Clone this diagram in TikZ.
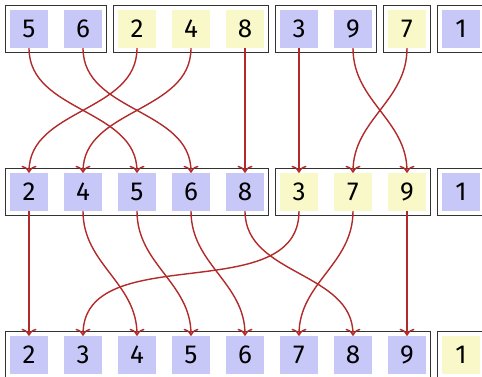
\documentclass[tikz,border=0pt]{standalone}
\usepackage{fontspec}
\setmainfont{Fira Sans}
\usetikzlibrary{fit,arrows.meta}
\definecolor{cellblue}{RGB}{200,200,248}
\definecolor{cellyellow}{RGB}{248,248,200}
\definecolor{movered}{RGB}{178,42,42}
\begin{document}
\begin{tikzpicture}[x=1pt,y=1pt,
  cell/.style={minimum width=38pt, minimum height=38pt, inner sep=0pt,
    font=\fontsize{26}{30}\selectfont},
  grp/.style={draw=black!80, line width=1pt, inner sep=4pt},
  move/.style={movered, line width=1.4pt, -{To[length=7pt,width=15pt]}}]
\useasboundingbox (0,0) rectangle (482,376);
% rows of cells, named by their value
\foreach \v/\c [count=\i] in {5/cellblue,6/cellblue,2/cellyellow,4/cellyellow,8/cellyellow,3/cellblue,9/cellblue,7/cellyellow,1/cellblue}
  \node[cell, fill=\c] (a\v) at ({29+54*(\i-1)},347) {\v};
\foreach \v/\c [count=\i] in {2/cellblue,4/cellblue,5/cellblue,6/cellblue,8/cellblue,3/cellyellow,7/cellyellow,9/cellyellow,1/cellblue}
  \node[cell, fill=\c] (b\v) at ({29+54*(\i-1)},184) {\v};
\foreach \v/\c [count=\i] in {2/cellblue,3/cellblue,4/cellblue,5/cellblue,6/cellblue,7/cellblue,8/cellblue,9/cellblue,1/cellyellow}
  \node[cell, fill=\c] (c\v) at ({29+54*(\i-1)},21) {\v};
% runs
\node[grp, fit=(a5)(a6)] (ra1) {};
\node[grp, fit=(a2)(a8)] (ra2) {};
\node[grp, fit=(a3)(a9)] (ra3) {};
\node[grp, fit=(a7)] (ra4) {};
\node[grp, fit=(a1)] (ra5) {};
\node[grp, fit=(b2)(b8)] (rb1) {};
\node[grp, fit=(b3)(b9)] (rb2) {};
\node[grp, fit=(b1)] (rb3) {};
\node[grp, fit=(c2)(c9)] (rc1) {};
\node[grp, fit=(c1)] (rc2) {};
% merges
\foreach \v in {2,...,9}{
  \draw[move] (a\v.south) to[out=-90,in=90] (b\v.north);
  \draw[move] (b\v.south) to[out=-90,in=90] (c\v.north);
}
\end{tikzpicture}
\end{document}
